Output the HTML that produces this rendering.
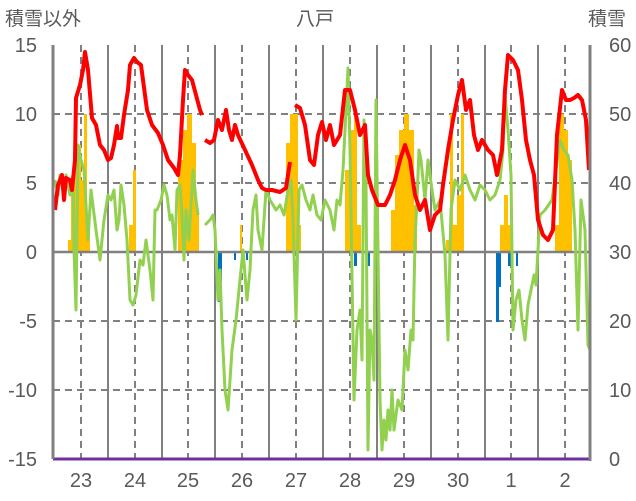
<!DOCTYPE html>
<html><head><meta charset="utf-8"><style>
body{margin:0;background:#fff;}
svg{display:block;font-family:"Liberation Sans","Noto Sans CJK JP",sans-serif;}
</style></head><body>
<svg width="636" height="501" viewBox="0 0 636 501">
<g fill="#595959" font-size="19">
<text x="5" y="25">積雪以外</text>
<text x="296" y="25">八戸</text>
<text x="588" y="25">積雪</text>
</g>
<g fill="#595959" font-size="20" text-anchor="end">
<text x="37" y="52">15</text><text x="37" y="121">10</text><text x="37" y="190">5</text>
<text x="37" y="259">0</text><text x="37" y="328">-5</text><text x="37" y="397">-10</text><text x="37" y="466">-15</text>
</g>
<g fill="#595959" font-size="20">
<text x="609" y="52">60</text><text x="609" y="121">50</text><text x="609" y="190">40</text>
<text x="609" y="259">30</text><text x="609" y="328">20</text><text x="609" y="397">10</text><text x="609" y="466">0</text>
</g>
<g fill="#595959" font-size="20" text-anchor="middle">
<text x="81" y="487">23</text><text x="135" y="487">24</text><text x="188" y="487">25</text><text x="242" y="487">26</text><text x="296" y="487">27</text><text x="350" y="487">28</text><text x="404" y="487">29</text><text x="458" y="487">30</text><text x="511" y="487">1</text><text x="565" y="487">2</text>
</g>
<g stroke="#808080" stroke-width="2" stroke-dasharray="7,5">
<line x1="53" y1="114" x2="590" y2="114"/><line x1="53" y1="183" x2="590" y2="183"/>
<line x1="53" y1="321" x2="590" y2="321"/><line x1="53" y1="390" x2="590" y2="390"/>
<line x1="81" y1="45" x2="81" y2="459"/><line x1="135" y1="45" x2="135" y2="459"/><line x1="188" y1="45" x2="188" y2="459"/><line x1="242" y1="45" x2="242" y2="459"/><line x1="296" y1="45" x2="296" y2="459"/><line x1="350" y1="45" x2="350" y2="459"/><line x1="404" y1="45" x2="404" y2="459"/><line x1="458" y1="45" x2="458" y2="459"/><line x1="511" y1="45" x2="511" y2="459"/><line x1="565" y1="45" x2="565" y2="459"/>
</g>
<g stroke="#808080" stroke-width="2">
<line x1="108" y1="45" x2="108" y2="459"/><line x1="162" y1="45" x2="162" y2="459"/><line x1="215" y1="45" x2="215" y2="459"/><line x1="269" y1="45" x2="269" y2="459"/><line x1="323" y1="45" x2="323" y2="459"/><line x1="377" y1="45" x2="377" y2="459"/><line x1="431" y1="45" x2="431" y2="459"/><line x1="485" y1="45" x2="485" y2="459"/><line x1="538" y1="45" x2="538" y2="459"/>
</g>
<g fill="#FFC000">
<rect x="68" y="240" width="3" height="12"/><rect x="71" y="195" width="3" height="57"/><rect x="74" y="160" width="4" height="92"/><rect x="78" y="145" width="3" height="107"/><rect x="81" y="180" width="3" height="72"/><rect x="84" y="114" width="3" height="138"/><rect x="87" y="215" width="3" height="37"/>
<rect x="129" y="225" width="4" height="27"/><rect x="133" y="170" width="3" height="82"/>
<rect x="178" y="160" width="5" height="92"/><rect x="183" y="130" width="4" height="122"/><rect x="187" y="114" width="5" height="138"/><rect x="192" y="143" width="4" height="109"/><rect x="196" y="210" width="3" height="42"/>
<rect x="240" y="225" width="2" height="27"/>
<rect x="286" y="143" width="4" height="109"/><rect x="290" y="114" width="8" height="138"/><rect x="298" y="225" width="3" height="27"/>
<rect x="345" y="170" width="4" height="82"/><rect x="349" y="130" width="5" height="122"/><rect x="354" y="114" width="3" height="138"/><rect x="357" y="225" width="4" height="27"/>
<rect x="391" y="210" width="4" height="42"/><rect x="395" y="155" width="4" height="97"/><rect x="399" y="130" width="5" height="122"/><rect x="404" y="114" width="5" height="138"/><rect x="409" y="130" width="5" height="122"/><rect x="414" y="205" width="3" height="47"/>
<rect x="446" y="240" width="4" height="12"/><rect x="450" y="114" width="3" height="138"/><rect x="453" y="225" width="4" height="27"/><rect x="457" y="195" width="4" height="57"/><rect x="461" y="114" width="3" height="138"/>
<rect x="500" y="225" width="4" height="27"/><rect x="504" y="195" width="4" height="57"/><rect x="508" y="225" width="4" height="27"/>
<rect x="555" y="225" width="4" height="27"/><rect x="559" y="114" width="5" height="138"/><rect x="564" y="130" width="4" height="122"/><rect x="568" y="160" width="4" height="92"/>
</g>
<g fill="#0070C0">
<rect x="218" y="252" width="2" height="50"/><rect x="220" y="252" width="2" height="30"/><rect x="234" y="252" width="2" height="8"/><rect x="246" y="252" width="2" height="8"/>
<rect x="354" y="252" width="3" height="14"/><rect x="368" y="252" width="2" height="14"/>
<rect x="496" y="252" width="3" height="70"/><rect x="499" y="252" width="2" height="35"/><rect x="508" y="252" width="3" height="14"/><rect x="516" y="252" width="2" height="14"/>
</g>
<line x1="53" y1="252" x2="590" y2="252" stroke="#808080" stroke-width="2.5"/>
<polyline fill="none" stroke="#92D050" stroke-width="3" stroke-linejoin="round" points="55,180 58,195 60,175 63,190 66,175 70,195 73,175 74,250 76,310 78,145 81,160 84,170 86,205 88,240 91,190 96,230 100,260 104,220 108,195 111,200 114,190 117,230 119,220 121,185 124,205 127,240 130,300 133,305 136,295 140,260 143,265 146,240 150,270 153,300 155,210 157,210 161,200 164,185 167,195 170,220 172,215 175,250 177,190 180,185 182,215 184,260 186,210 189,240 193,170 196,200 198,215"/>
<polyline fill="none" stroke="#92D050" stroke-width="3" stroke-linejoin="round" points="205,225 210,220 213,215 215,230 218,300 220,270 222,330 225,390 228,410 232,350 236,320 240,280 243,250 247,300 250,270 253,210 256,195 258,230 262,250 266,190 270,200 276,210 280,205 284,215 288,190 291,180 293,220 296,320 299,190 302,185 306,200 310,210 313,195 317,215 321,220 325,200 330,210 334,230 337,200 340,205 343,170 345,130 348,68 350,150 354,400 357,330 360,310 362,360 364,120 366,180 368,450 370,330 372,340 374,380 376,100 380,400 382,450 384,420 386,440 388,410 390,430 392,390 394,430 398,400 402,410 405,350 408,370 411,330 413,340 415,240 417,200 419,150 421,160 425,200 428,160 432,190 435,210 440,200 445,255 448,340 451,210 455,180 460,190 465,175 470,190 475,200 480,185 485,190 490,200 495,195 500,180 503,150 505,95 508,130 511,175 513,330 516,300 519,290 522,320 525,340 528,305 534,275 536,285 540,215 545,210 552,200 556,170 560,140 564,150 568,155 572,180 575,230 578,330 581,200 585,230 588,345 590,350"/>
<g fill="none" stroke="#FF0000" stroke-width="4" stroke-linejoin="round">
<polyline points="55,210 58,185 62,175 64,200 66,178 70,180 72,190 75,160 76,98 80,85 83,70 85,52 88,70 92,118 96,125 100,145 104,150 108,160 111,158 114,145 117,126 118,138 121,138 124,115 128,90 130,65 134,58 137,62 141,65 143,80 147,110 152,125 158,133 163,145 168,160 174,168 178,175 180,155 183,100 185,70 188,75 192,80 196,95 200,110 202,115"/>
<polyline points="205,140 210,143 214,140 218,120 222,130 226,110 229,130 232,140 235,125 238,135 245,150 252,165 258,180 262,188 266,190 272,190 280,192 286,188 290,162"/>
<polyline points="295,105 300,108 305,125 310,160 314,165 318,135 322,122 326,140 330,125 334,145 340,135 345,90 350,90 355,110 360,135 365,125 368,175 372,190 378,205 385,205 390,195 395,180 400,160 405,145 410,160 415,195 420,210 425,200 430,230 435,215 440,210 443,185 448,150 453,120 458,95 462,80 466,110 470,100 474,135 478,150 482,140 488,150 493,155 497,175 502,150 505,90 508,55 513,60 518,70 522,100 526,140 530,160 534,175 538,220 543,235 548,240 553,230 557,135 562,90 566,100 570,100 574,98 578,95 582,100 586,120 589,170"/>
</g>
<line x1="53" y1="459" x2="590" y2="459" stroke="#7030A0" stroke-width="3"/>
<line x1="53" y1="45" x2="53" y2="459" stroke="#808080" stroke-width="3"/>
<line x1="590" y1="45" x2="590" y2="461" stroke="#808080" stroke-width="3"/>
</svg>
</body></html>
